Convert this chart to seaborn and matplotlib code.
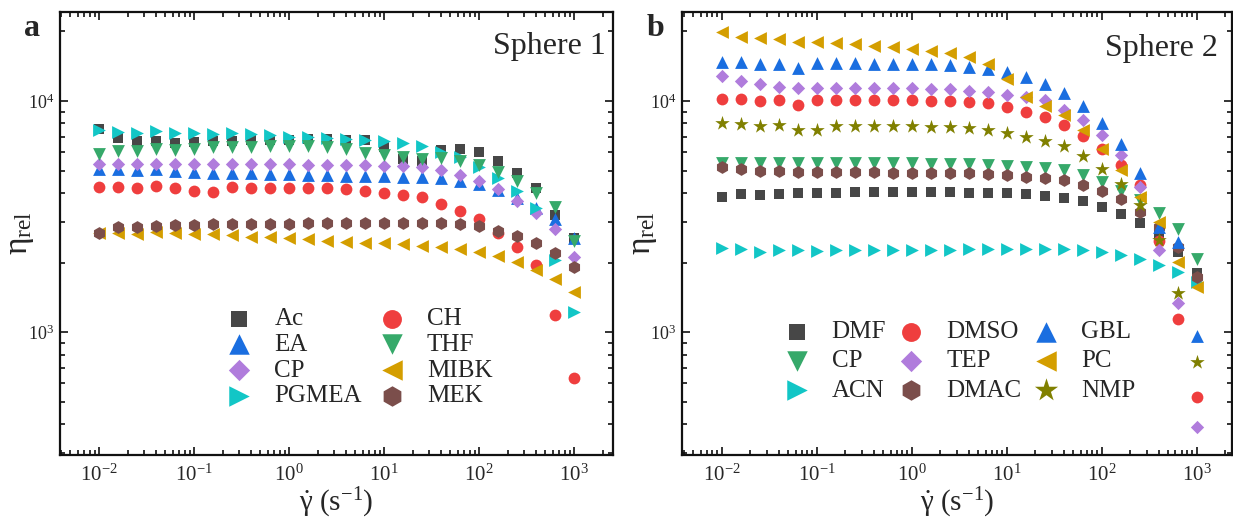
import matplotlib
matplotlib.use("Agg")
import matplotlib.pyplot as plt
import matplotlib.ticker as mticker
import numpy as np
import seaborn as sns

# ---------------- data ----------------
shear_rate = [0.01, 0.01585, 0.02512, 0.03981, 0.0631, 0.1, 0.1585, 0.2512, 0.3981, 0.631,
              1.0, 1.585, 2.512, 3.981, 6.31, 10.0, 15.85, 25.12, 39.81, 63.1,
              100.0, 158.5, 251.2, 398.1, 631.0, 1000.0]

# Sphere 1
ac = [7570, 6935, 6730, 6730, 6600, 6630, 6700, 6730, 6780, 6800, 6800, 6850, 6850, 6800, 6780,
      6340, 5600, 5520, 6140, 6180, 6010, 5490, 4870, 4190, 3210, 2550]
ea = [5060, 5060, 5020, 5060, 4960, 4950, 4900, 4900, 4870, 4830, 4820, 4780, 4780, 4750, 4750,
      4750, 4710, 4710, 4630, 4520, 4360, 4120, 3800, 3450, 3080, 2550]
cp1 = [5320, 5320, 5320, 5330, 5320, 5320, 5330, 5320, 5320, 5320, 5320, 5310, 5300, 5290, 5270,
       5240, 5240, 5160, 5020, 4780, 4520, 4160, 3700, 3270, 2790, 2120]
pgmea = [7480, 7360, 7300, 7400, 7300, 7300, 7180, 7240, 7200, 7120, 7000, 7000, 6950, 6870, 6780,
         6700, 6560, 6380, 6030, 5710, 5160, 4660, 4070, 3430, 2050, 1225]
ch = [4260, 4260, 4220, 4290, 4220, 4080, 4050, 4260, 4220, 4220, 4190, 4190, 4190, 4160, 4090,
      4010, 3920, 3830, 3600, 3350, 3080, 2690, 2340, 1960, 1190, 630]
thf = [5900, 6080, 6080, 6190, 6140, 6200, 6340, 6340, 6340, 6380, 6380, 6380, 6340, 6200, 5940,
       5840, 5740, 5620, 5640, 5500, 5280, 4950, 4520, 3990, 3490, 2490]
mibk = [2690, 2690, 2655, 2720, 2690, 2670, 2670, 2630, 2590, 2570, 2545, 2520, 2485, 2460, 2435,
        2420, 2405, 2355, 2325, 2280, 2230, 2135, 2015, 1865, 1690, 1490]
mek = [2690, 2840, 2840, 2880, 2910, 2910, 2940, 2940, 2940, 2940, 2940, 2970, 2970, 2970, 2970,
       2970, 2970, 2970, 2960, 2940, 2870, 2750, 2610, 2440, 2210, 1920]

# Sphere 2
dmf = [3850, 3960, 3920, 3940, 3980, 3980, 4010, 4030, 4030, 4030, 4030, 4030, 4030, 4010, 4010,
       3980, 3940, 3880, 3810, 3690, 3490, 3260, 2960, 2650, 2220, 1810]
cp2 = [5370, 5370, 5370, 5410, 5410, 5410, 5410, 5410, 5410, 5410, 5370, 5340, 5340, 5320, 5280,
       5250, 5170, 5120, 5020, 4780, 4480, 4090, 3720, 3290, 2790, 2070]
acn = [2320, 2290, 2230, 2260, 2260, 2240, 2260, 2260, 2260, 2260, 2260, 2260, 2260, 2280, 2280,
       2280, 2280, 2300, 2280, 2260, 2230, 2150, 2070, 1950, 1825, 1650]
dmso = [10170, 10170, 10030, 10100, 9610, 10100, 10100, 10100, 10100, 10100, 10100, 10030, 10000,
        9870, 9840, 9450, 8990, 8550, 7870, 7050, 6190, 5280, 4330, 2490, 1145, 525]
tep = [12830, 12240, 11810, 11530, 11350, 11350, 11350, 11350, 11350, 11350, 11350, 11270, 11270,
       11080, 10910, 10620, 10440, 10100, 9140, 8270, 7120, 5840, 4230, 2270, 1340, 389]
dmac = [5170, 5080, 4990, 4990, 4910, 4910, 4910, 4910, 4910, 4900, 4900, 4870, 4870, 4870, 4830,
        4780, 4700, 4660, 4550, 4330, 4070, 3770, 3300, 2840, 2340, 1730]
gbl = [14790, 14710, 14460, 14460, 13850, 14560, 14560, 14560, 14460, 14460, 14420, 14420, 14320,
       14070, 13760, 13390, 12660, 11850, 10800, 9510, 8000, 6520, 4890, 2860, 2450, 960]
pc = [19830, 18880, 18680, 18540, 17940, 18060, 17870, 17640, 17340, 17070, 16740, 16460, 16080,
      15450, 14410, 12410, 10370, 9510, 8700, 7490, 6190, 5020, 3850, 3010, 2015, 1560]
nmp = [8050, 7950, 7790, 7870, 7490, 7490, 7790, 7790, 7790, 7790, 7790, 7740, 7740, 7620, 7490,
       7250, 6960, 6730, 6410, 5780, 5060, 4380, 3550, 2500, 1470, 743]

labels1 = ["Ac", "EA", "CP", "PGMEA", "CH", "THF", "MIBK", "MEK"]
values1 = [ac, ea, cp1, pgmea, ch, thf, mibk, mek]
labels2 = ["DMF", "CP", "ACN", "DMSO", "TEP", "DMAC", "GBL", "PC", "NMP"]
values2 = [dmf, cp2, acn, dmso, tep, dmac, gbl, pc, nmp]

# ---------------- styles ----------------
GRAY, BLUE, PURPLE, CYAN = "#474747", "#1a6ee0", "#b07cdc", "#12c6c6"
RED, GREEN, GOLD, BROWN, OLIVE = "#ef3e3e", "#36a96a", "#d49e00", "#7b4e4b", "#808000"
styles1 = [("s", GRAY), ("^", BLUE), ("D", PURPLE), (">", CYAN),
           ("o", RED), ("v", GREEN), ("<", GOLD), ("h", BROWN)]
styles2 = [("s", GRAY), ("v", GREEN), (">", CYAN), ("o", RED), ("D", PURPLE),
           ("h", BROWN), ("^", BLUE), ("<", GOLD), ("*", OLIVE)]
SIZES = {"s": 58, "o": 72, "^": 85, "v": 85, "<": 85, ">": 85, "D": 46, "h": 85, "*": 120}

sns.set_style("ticks")
plt.rcParams["font.family"] = ["Liberation Serif", "DejaVu Serif"]
plt.rcParams["mathtext.fontset"] = "custom"
plt.rcParams["mathtext.rm"] = "Liberation Serif"
plt.rcParams["mathtext.it"] = "Liberation Serif:italic"
plt.rcParams["mathtext.bf"] = "Liberation Serif:bold"
plt.rcParams["axes.unicode_minus"] = False

W, H = 1233, 522
fig = plt.figure(figsize=(W / 100, H / 100), dpi=100)
ax1 = fig.add_axes([60 / W, 67 / H, 553 / W, 443 / H])
ax2 = fig.add_axes([682 / W, 67 / H, 550 / W, 443 / H])


def draw(ax, labels, values, styles):
    for name, vals, (m, c) in zip(labels, values, styles):
        sns.scatterplot(x=shear_rate, y=vals, marker=m, color=c, s=SIZES[m],
                        linewidth=0, ax=ax, label=name, legend=False)


draw(ax1, labels1, values1, styles1)
draw(ax2, labels2, values2, styles2)

for ax, xmin, xmax, lx in ((ax1, 10 ** -2.4105, 10 ** 3.4105, -0.043),
                           (ax2, 10 ** -2.417, 10 ** 3.373, -0.042)):
    ax.set_xscale("log")
    ax.set_yscale("log")
    ax.set_xlim(xmin, xmax)
    ax.set_ylim(294, 24270)
    ax.xaxis.set_major_locator(mticker.LogLocator(base=10, numticks=20))
    ax.xaxis.set_minor_locator(mticker.LogLocator(base=10, subs=np.arange(2, 10), numticks=20))
    ax.yaxis.set_minor_locator(mticker.LogLocator(base=10, subs=np.arange(2, 10), numticks=20))
    ax.xaxis.set_minor_formatter(mticker.NullFormatter())
    ax.yaxis.set_minor_formatter(mticker.NullFormatter())
    ax.tick_params(which="both", direction="in", top=True, right=True, width=1.2, color="#111111")
    ax.tick_params(which="major", length=6)
    ax.tick_params(which="minor", length=3.5)
    ax.tick_params(axis="x", which="major", labelsize=15, pad=7)
    ax.tick_params(axis="y", which="major", labelsize=13, pad=4)
    for sp in ax.spines.values():
        sp.set_linewidth(1.6)
        sp.set_color("#111111")
    ax.set_xlabel(r"$\dot{\mathrm{\gamma}}$ (s$^{\mathrm{-1}}$)", fontsize=21, labelpad=0)
    ax.set_ylabel(r"$\mathrm{\eta_{rel}}$", fontsize=24)
    ax.yaxis.set_label_coords(lx, 0.5)

ax1.text(0.986, 0.955, "Sphere 1", transform=ax1.transAxes, ha="right", va="top", fontsize=23)
ax2.text(0.975, 0.95, "Sphere 2", transform=ax2.transAxes, ha="right", va="top", fontsize=23)
fig.text(24 / W, 1 - 14 / H, "a", fontsize=23, fontweight="bold", ha="left", va="top")
fig.text(647 / W, 1 - 14 / H, "b", fontsize=23, fontweight="bold", ha="left", va="top")

h1, l1 = ax1.get_legend_handles_labels()
ax1.legend(h1, l1, ncol=2, loc="center", bbox_to_anchor=(0.542, 0.220), frameon=False,
           fontsize=18, markerscale=1.6, handlelength=1.0, handletextpad=0.9,
           columnspacing=0.7, labelspacing=0.13, borderpad=0)
h2, l2 = ax2.get_legend_handles_labels()
ax2.legend(h2, l2, ncol=3, loc="center", bbox_to_anchor=(0.505, 0.212), frameon=False,
           fontsize=18, markerscale=1.6, handlelength=1.0, handletextpad=0.9,
           columnspacing=0.5, labelspacing=0.27, borderpad=0)

fig.savefig("out.png", dpi=100)
